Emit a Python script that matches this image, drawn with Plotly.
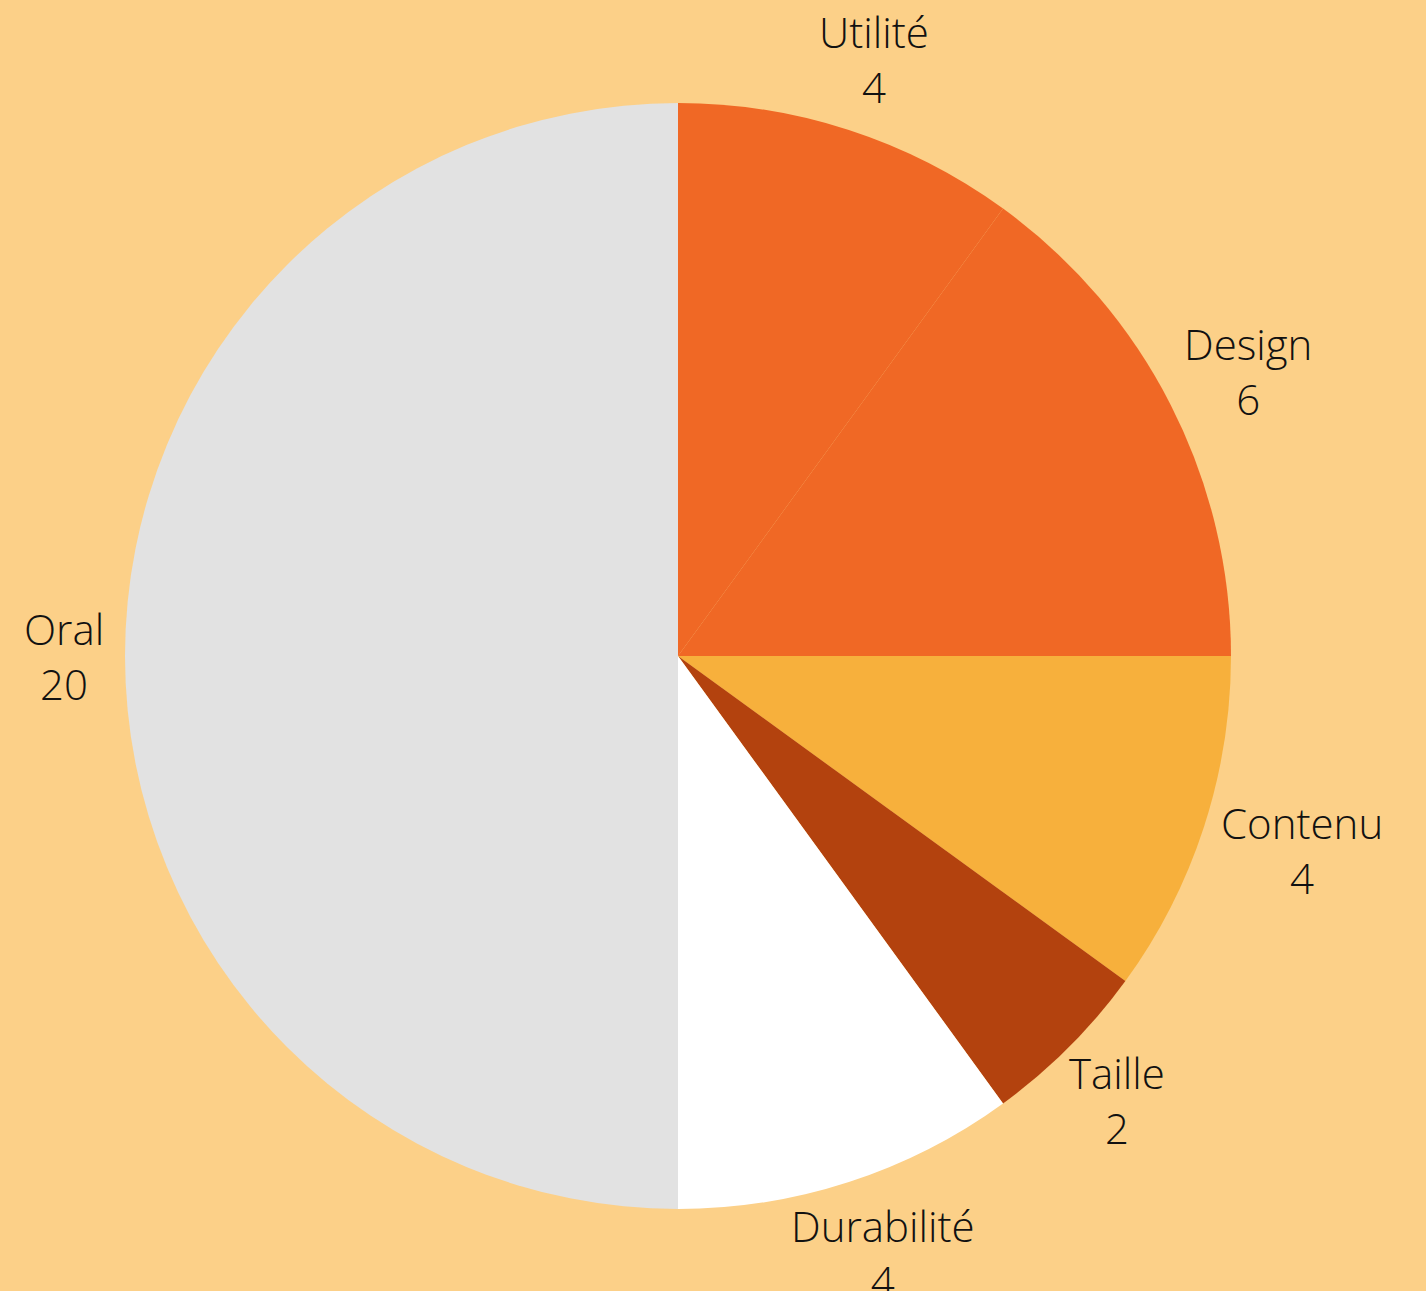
import numpy as np
import plotly.graph_objects as go

labels = ["Utilité", "Design", "Contenu", "Taille", "Durabilité", "Oral"]
values = [4, 6, 4, 2, 4, 20]
colors = ["#F06825", "#F06825", "#F7B03C", "#B3420E", "#FFFFFF", "#E2E2E2"]

W, H = 1426, 1291
M = dict(l=0, r=70, t=103, b=82)
plot_w = W - M["l"] - M["r"]
plot_h = H - M["t"] - M["b"]
aspect = plot_w / plot_h
R_PX = plot_h / 2.0          # pie radius in pixels
FONT_SIZE = 42
CHAR_W = 18.0                # rough average glyph width (px)
HALF_H = 56.0                # half height of a two-line label (px)
LABEL_R = 572.0 / R_PX       # label anchor radius, in pie radii

vals = np.array(values, dtype=float)
ends = np.cumsum(vals) / vals.sum() * 360.0
mids = ends - vals / vals.sum() * 180.0
rad = np.radians(mids)
xs = LABEL_R * np.sin(rad)
ys = LABEL_R * np.cos(rad)

fig = go.Figure()
fig.add_trace(go.Scatter(
    x=xs, y=ys, mode="none", showlegend=False, hoverinfo="skip",
))
fig.add_trace(go.Pie(
    labels=labels,
    values=values,
    sort=False,
    direction="clockwise",
    rotation=0,
    marker=dict(colors=colors, line=dict(width=0)),
    textinfo="none",
    automargin=False,
    showlegend=False,
    hoverinfo="label+value",
))

annotations = []
for lab, v, a, x, y in zip(labels, values, rad, xs, ys):
    s, c = np.sin(a), np.cos(a)
    w = max(len(lab), len(str(v))) * CHAR_W
    if s > 0.5:
        xanchor, xshift = "left", -w / 2 * (1 - s)
    elif s < -0.5:
        xanchor, xshift = "right", w / 2 * (1 + s)
    else:
        xanchor, xshift = "center", w / 2 * s
    annotations.append(dict(
        x=x, y=y, xref="x", yref="y",
        text=f"{lab}<br>{v}",
        showarrow=False,
        xanchor=xanchor, yanchor="middle",
        xshift=xshift, yshift=HALF_H * c,
        align="center",
        font=dict(family="Open Sans", size=FONT_SIZE, color="#111111", weight=300),
    ))

fig.update_layout(
    width=W,
    height=H,
    paper_bgcolor="#FCD088",
    plot_bgcolor="rgba(0,0,0,0)",
    margin=M,
    font=dict(family="Open Sans"),
    xaxis=dict(visible=False, range=[-aspect, aspect], fixedrange=True),
    yaxis=dict(visible=False, range=[-1, 1], fixedrange=True),
    annotations=annotations,
)

fig.write_html(
    "out.html",
    config={"displayModeBar": False},
    post_script="document.body.style.margin='0';document.body.style.background='#FCD088';",
)
